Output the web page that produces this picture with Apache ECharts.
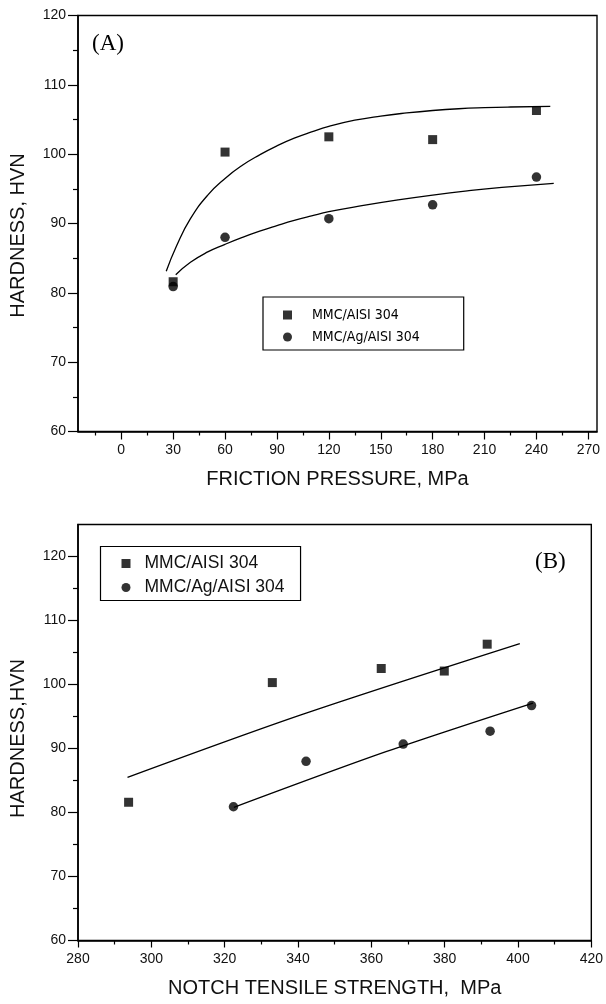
<!DOCTYPE html>
<html><head><meta charset="utf-8">
<script src="https://cdn.jsdelivr.net/npm/echarts@6/dist/echarts.min.js"></script>
<style>html,body{margin:0;padding:0;background:#fff}#c{width:606px;height:1004px}</style>
</head><body><div id="c"></div>
<script>
const seriesNames = ['MMC/AISI 304', 'MMC/Ag/AISI 304'];
// Chart A: hardness vs friction pressure
const pressureA = [30, 60, 120, 180, 240];
const hardnessMMC = [81.6, 100.3, 102.5, 102.1, 106.3];
const hardnessMMCAg = [80.9, 88.0, 90.7, 92.7, 96.7];
const fitA_MMC = [[26, 83.1], [32, 86.8], [40, 90.7], [50, 94.1], [60, 96.5], [70, 98.4], [80, 99.9], [90, 101.2], [100, 102.3], [110, 103.2], [120, 104.0], [135, 104.9], [150, 105.5], [165, 105.95], [180, 106.3], [195, 106.55], [210, 106.7], [225, 106.8], [248, 106.9]];
const fitA_MMCAg = [[31.5, 82.6], [40, 84.4], [50, 85.9], [60, 87.0], [70, 88.0], [80, 88.9], [90, 89.7], [100, 90.45], [110, 91.1], [120, 91.7], [140, 92.6], [160, 93.4], [180, 94.1], [200, 94.7], [220, 95.2], [250, 95.8]];
// Chart B: hardness vs notch tensile strength
const strengthMMC = [293.8, 333.0, 362.7, 379.9, 391.6];
const strengthMMCAg = [322.4, 342.2, 368.7, 392.4, 403.7];
const fitB_MMC = [[293.5, 85.5], [341, 95.3], [400.5, 106.4]];
const fitB_MMCAg = [[322.5, 80.8], [364, 89.5], [404.1, 97.1]];
// tick values
const xTicksA = [0, 30, 60, 90, 120, 150, 180, 210, 240, 270];
const xMinorA = [-15, 15, 45, 75, 105, 135, 165, 195, 225, 255];
const yTicks = [60, 70, 80, 90, 100, 110, 120];
const yMinor = [65, 75, 85, 95, 105, 115];
const xTicksB = [280, 300, 320, 340, 360, 380, 400, 420];
const xMinorB = [290, 310, 330, 350, 370, 390, 410];

const SANS = 'Liberation Sans, Arial, sans-serif';
const pair = (xs, ys) => xs.map((x, i) => [x, ys[i]]);

function mainAxis(gridIndex, pos, min, max, ticks, tickLen, extra) {
  return Object.assign({
    type: 'value', gridIndex, position: pos, min, max,
    axisLine: { show: true, onZero: false, lineStyle: { color: '#000', width: 1.6 } },
    axisTick: { show: true, customValues: ticks, length: tickLen, lineStyle: { color: '#000', width: 1.2 } },
    axisLabel: { show: true, customValues: ticks, color: '#111', fontSize: 14, fontFamily: SANS, margin: 12 },
    splitLine: { show: false }
  }, extra);
}
function minorAxis(gridIndex, pos, min, max, ticks, len) {
  return {
    type: 'value', gridIndex, position: pos, min, max,
    axisLine: { show: false, onZero: false },
    axisTick: { show: true, customValues: ticks, length: len, lineStyle: { color: '#000', width: 1.2 } },
    axisLabel: { show: false, customValues: ticks },
    splitLine: { show: false }
  };
}
const nameStyle = { color: '#111', fontSize: 20, fontFamily: SANS };

const chart = echarts.init(document.getElementById('c'), null, { renderer: 'canvas' });
chart.setOption({
  backgroundColor: '#fff',
  animation: false,
  title: [
    { text: '(A)', left: 92, top: 32, padding: 0, textStyle: { fontFamily: 'Liberation Serif, Times New Roman, serif', fontSize: 23, fontWeight: 'normal', color: '#000' } },
    { text: '(B)', left: 535, top: 550, padding: 0, textStyle: { fontFamily: 'Liberation Serif, Times New Roman, serif', fontSize: 23, fontWeight: 'normal', color: '#000' } }
  ],
  grid: [
    { left: 77, top: 15.5, width: 520, height: 416, show: true, borderColor: '#000', borderWidth: 1.4, backgroundColor: 'transparent' },
    { left: 77, top: 524.5, width: 520, height: 416, show: true, borderColor: '#000', borderWidth: 1.4, backgroundColor: 'transparent' }
  ],
  xAxis: [
    mainAxis(0, 'bottom', -25, 275, xTicksA, 8, { name: 'FRICTION PRESSURE, MPa', nameLocation: 'middle', nameGap: 38, nameTextStyle: nameStyle }),
    minorAxis(0, 'bottom', -25, 275, xMinorA, 4),
    mainAxis(1, 'bottom', 280, 420, xTicksB, 7, { name: 'NOTCH TENSILE STRENGTH,  MPa', nameLocation: 'middle', nameGap: 38, nameTextStyle: nameStyle }),
    minorAxis(1, 'bottom', 280, 420, xMinorB, 4)
  ],
  yAxis: [
    mainAxis(0, 'left', 60, 120, yTicks, 10, { name: 'HARDNESS, HVN', nameLocation: 'middle', nameGap: 50, nameRotate: 90, nameTextStyle: Object.assign({ padding: [0, 24, 0, 0] }, nameStyle) }),
    minorAxis(0, 'left', 60, 120, yMinor, 5),
    mainAxis(1, 'left', 60, 125, yTicks, 10, { name: 'HARDNESS,HVN', nameLocation: 'middle', nameGap: 50, nameRotate: 90, nameTextStyle: Object.assign({ padding: [0, 12, 0, 0] }, nameStyle) }),
    minorAxis(1, 'left', 60, 125, yMinor, 5)
  ],
  legend: [
    {
      orient: 'vertical', left: 263, top: 297,
      data: [{ name: seriesNames[0], icon: 'rect' }, { name: seriesNames[1], icon: 'circle' }],
      itemWidth: 9, itemHeight: 9, itemGap: 6,
      padding: [10, 44, 5, 20],
      borderColor: '#000', borderWidth: 1.2,
      selectedMode: false,
      textStyle: { fontFamily: 'DejaVu Sans Condensed, Liberation Sans Narrow, Arial Narrow, sans-serif', fontSize: 14, lineHeight: 16, color: '#000', padding: [0, 0, 0, 15] }
    },
    {
      orient: 'vertical', left: 100.5, top: 546.5,
      data: [{ name: seriesNames[0], icon: 'rect' }, { name: seriesNames[1], icon: 'circle' }],
      itemWidth: 9, itemHeight: 9, itemGap: 6,
      padding: [8, 16, 4, 21],
      borderColor: '#000', borderWidth: 1.2,
      selectedMode: false,
      textStyle: { fontFamily: SANS, fontSize: 17.5, lineHeight: 18, color: '#111', padding: [0, 0, 0, 9] }
    }
  ],
  series: [
    { name: 'fitA1', type: 'line', xAxisIndex: 0, yAxisIndex: 0, data: fitA_MMC, smooth: 0.5, showSymbol: false, symbol: 'none', lineStyle: { color: '#000', width: 1.3 }, z: 2 },
    { name: 'fitA2', type: 'line', xAxisIndex: 0, yAxisIndex: 0, data: fitA_MMCAg, smooth: 0.5, showSymbol: false, symbol: 'none', lineStyle: { color: '#000', width: 1.3 }, z: 2 },
    { name: seriesNames[0], type: 'scatter', xAxisIndex: 0, yAxisIndex: 0, data: pair(pressureA, hardnessMMC), symbol: 'rect', symbolSize: 9, itemStyle: { color: '#000' }, z: 3 },
    { name: seriesNames[1], type: 'scatter', xAxisIndex: 0, yAxisIndex: 0, data: pair(pressureA, hardnessMMCAg), symbol: 'circle', symbolSize: 9.5, itemStyle: { color: '#000' }, z: 3 },
    { name: 'fitB1', type: 'line', xAxisIndex: 2, yAxisIndex: 2, data: fitB_MMC, smooth: 0.3, showSymbol: false, symbol: 'none', lineStyle: { color: '#000', width: 1.3 }, z: 2 },
    { name: 'fitB2', type: 'line', xAxisIndex: 2, yAxisIndex: 2, data: fitB_MMCAg, smooth: 0.3, showSymbol: false, symbol: 'none', lineStyle: { color: '#000', width: 1.3 }, z: 2 },
    { name: seriesNames[0], type: 'scatter', xAxisIndex: 2, yAxisIndex: 2, data: pair(strengthMMC, hardnessMMC), symbol: 'rect', symbolSize: 9, itemStyle: { color: '#000' }, z: 3 },
    { name: seriesNames[1], type: 'scatter', xAxisIndex: 2, yAxisIndex: 2, data: pair(strengthMMCAg, hardnessMMCAg), symbol: 'circle', symbolSize: 9.5, itemStyle: { color: '#000' }, z: 3 }
  ]
});
</script>
</body></html>
